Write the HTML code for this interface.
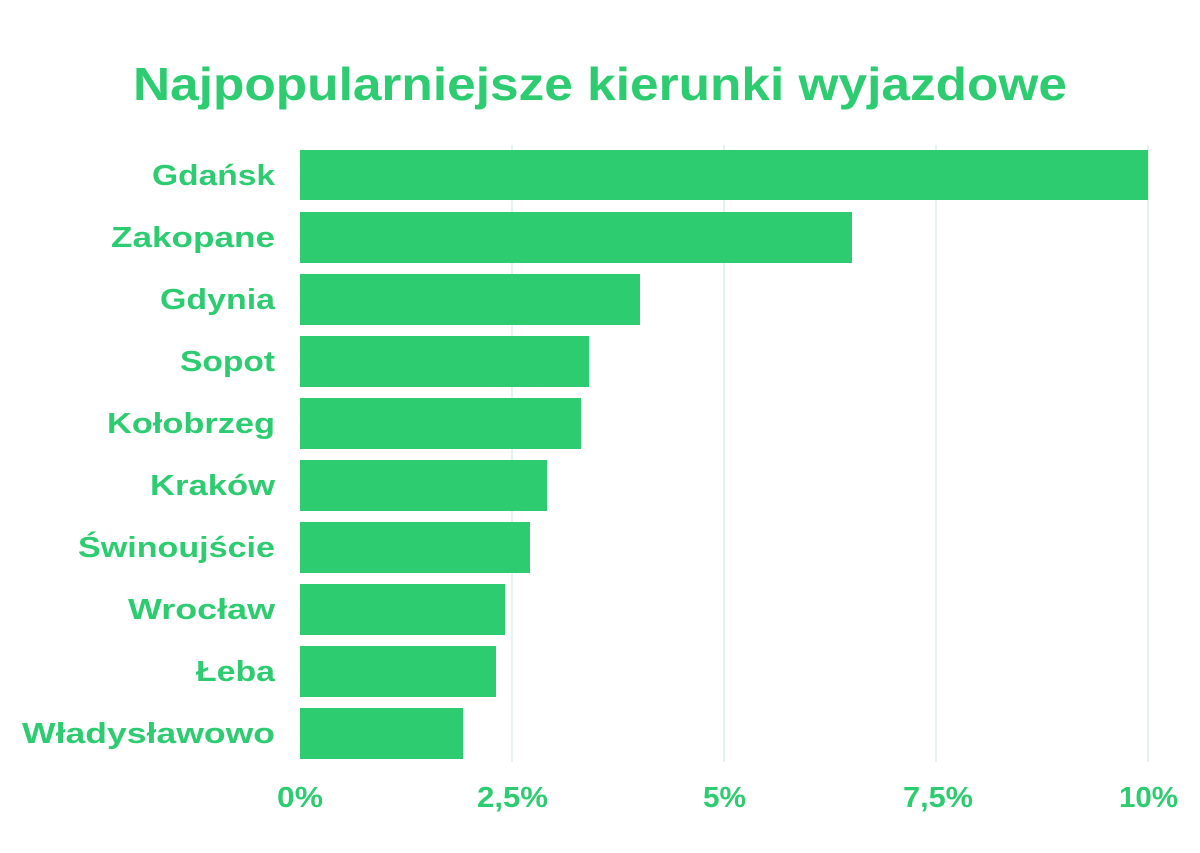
<!DOCTYPE html>
<html><head><meta charset="utf-8"><style>
body{margin:0;background:#fff;width:1200px;height:848px;overflow:hidden}
svg text{font-family:"Liberation Sans","DejaVu Sans",sans-serif;fill:#2ecc71;font-weight:bold}
</style></head><body>
<svg width="1200" height="848" viewBox="0 0 1200 848">
<rect width="1200" height="848" fill="#fff"/>
<text x="133" y="100" font-size="46" textLength="934" lengthAdjust="spacingAndGlyphs">Najpopularniejsze kierunki wyjazdowe</text>
<g stroke="#dcefe6" stroke-width="1.5">
<line x1="512" y1="145" x2="512" y2="762"/>
<line x1="724" y1="145" x2="724" y2="762"/>
<line x1="936" y1="145" x2="936" y2="762"/>
<line x1="1148" y1="145" x2="1148" y2="762"/>
</g>
<g fill="#2ecc71">
<rect x="300" y="150" width="848" height="50"/>
<rect x="300" y="212" width="552" height="51"/>
<rect x="300" y="274" width="340" height="51"/>
<rect x="300" y="336" width="289" height="51"/>
<rect x="300" y="398" width="281" height="51"/>
<rect x="300" y="460" width="247" height="51"/>
<rect x="300" y="522" width="230" height="51"/>
<rect x="300" y="584" width="205" height="51"/>
<rect x="300" y="646" width="196" height="51"/>
<rect x="300" y="708" width="163" height="51"/>
</g>
<g font-size="29">
<text x="152" y="185" textLength="123" lengthAdjust="spacingAndGlyphs">Gdańsk</text>
<text x="111" y="247" textLength="164" lengthAdjust="spacingAndGlyphs">Zakopane</text>
<text x="160" y="309" textLength="115" lengthAdjust="spacingAndGlyphs">Gdynia</text>
<text x="180" y="371" textLength="95" lengthAdjust="spacingAndGlyphs">Sopot</text>
<text x="107" y="433" textLength="168" lengthAdjust="spacingAndGlyphs">Kołobrzeg</text>
<text x="150" y="495" textLength="125" lengthAdjust="spacingAndGlyphs">Kraków</text>
<text x="78" y="557" textLength="197" lengthAdjust="spacingAndGlyphs">Świnoujście</text>
<text x="128" y="619" textLength="147" lengthAdjust="spacingAndGlyphs">Wrocław</text>
<text x="196" y="681" textLength="79" lengthAdjust="spacingAndGlyphs">Łeba</text>
<text x="22" y="743" textLength="253" lengthAdjust="spacingAndGlyphs">Władysławowo</text>
</g>
<g font-size="29">
<text x="277" y="807" textLength="46" lengthAdjust="spacingAndGlyphs">0%</text>
<text x="477" y="807" textLength="71" lengthAdjust="spacingAndGlyphs">2,5%</text>
<text x="703" y="807" textLength="43" lengthAdjust="spacingAndGlyphs">5%</text>
<text x="903" y="807" textLength="70" lengthAdjust="spacingAndGlyphs">7,5%</text>
<text x="1119" y="807" textLength="59" lengthAdjust="spacingAndGlyphs">10%</text>
</g>
</svg>
</body></html>
